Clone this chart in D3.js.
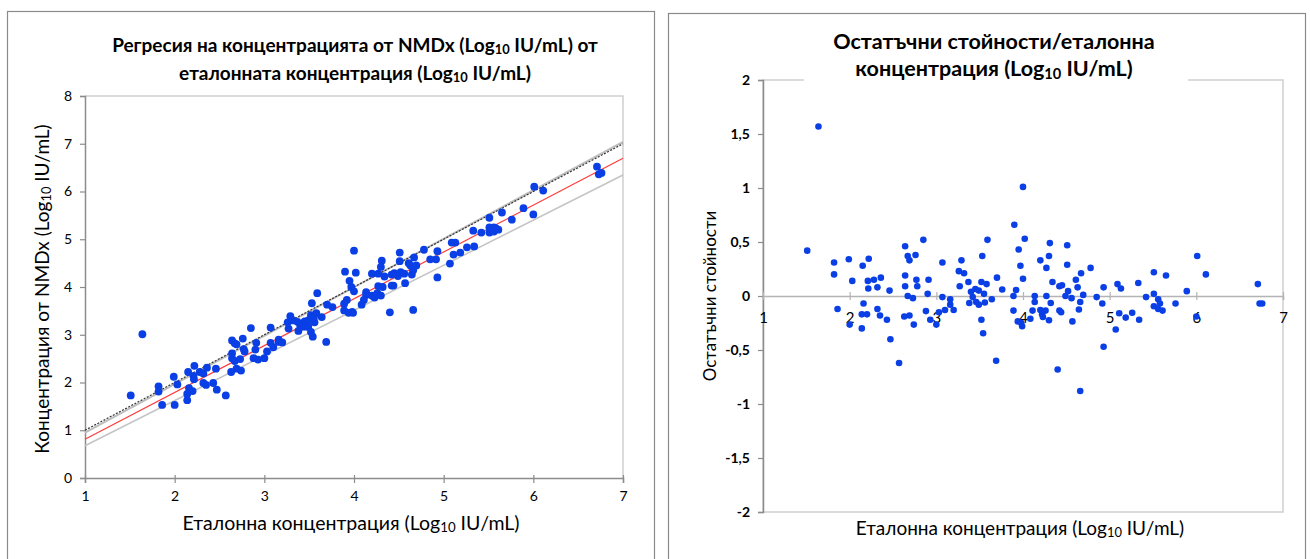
<!DOCTYPE html>
<html><head><meta charset="utf-8">
<script src="https://cdn.jsdelivr.net/npm/d3@7"></script>
<style>
body{margin:0;background:#fff;}
svg text{font-family:Lato,"Open Sans","Noto Sans",sans-serif;fill:#000;}
</style></head>
<body><svg id="c" width="1310" height="559"></svg>
<script>
// Reference concentration (Log10 IU/mL)
const refX = [1.51,1.64,1.82,1.82,1.86,1.99,2.03,2.00,2.14,2.14,2.20,2.16,2.15,2.22,2.21,2.215,2.28,2.32,2.36,2.32,2.35,2.43,2.46,2.47,2.57,2.64,2.67,2.69,2.76,2.64,2.64,2.67,2.73,2.77,2.78,2.85,2.91,2.90,2.63,2.69,2.74,2.88,2.93,3.00,
3.07,3.07,3.03,3.10,3.16,3.16,3.20,3.29,3.26,3.32,3.37,3.27,3.38,3.40,3.42,3.45,3.46,3.49,3.52,3.53,3.52,3.54,3.56,3.58,3.55,3.49,3.59,3.64,3.69,3.70,3.76,3.90,4.00,4.02,3.95,3.97,4.00,3.92,3.89,3.89,3.94,3.98,3.99,4.085,4.135,4.135,4.11,4.20,4.20,4.22,4.23,4.26,4.27,4.27,4.30,4.31,4.30,4.32,4.34,4.40,4.42,4.45,4.42,4.44,4.49,4.51,4.51,4.52,4.56,4.57,4.61,4.63,4.645,4.66,4.66,4.67,4.695,4.78,4.85,4.915,4.93,4.93,5.07,
5.09,5.13,5.11,5.185,5.26,5.34,5.33,5.42,5.51,5.51,5.51,5.56,5.58,5.56,5.61,5.65,5.76,5.89,6.01,6.11,6.71,6.73,6.76,6.00];
// NMDx concentration (Log10 IU/mL), left panel
const nmdxY = [1.73,3.01,1.92,1.81,1.53,2.12,1.96,1.53,1.63,1.76,1.82,1.88,2.22,2.35,2.14,2.07,2.22,2.19,2.31,1.99,1.95,1.99,2.29,1.85,1.73,2.88,2.82,2.80,2.92,2.61,2.51,2.45,2.49,2.70,2.65,3.14,2.83,2.69,2.22,2.29,2.25,2.51,2.48,2.51,
3.15,2.83,2.65,2.74,2.90,2.85,2.84,3.39,3.26,3.30,3.27,3.13,3.08,3.20,3.17,3.28,3.17,3.17,3.41,3.66,3.06,2.96,3.26,3.45,3.33,3.30,3.87,3.37,2.85,3.63,3.58,4.32,4.76,4.30,4.13,4.00,3.91,3.73,3.65,3.51,3.46,3.48,3.46,3.63,3.89,3.83,3.73,4.28,3.82,3.80,3.78,3.87,4.28,4.02,4.42,4.55,3.82,4.00,4.22,3.47,4.26,4.29,4.03,4.03,4.23,4.72,4.54,4.31,4.28,4.08,4.50,4.45,4.26,4.35,3.52,4.62,4.45,4.78,4.58,4.58,4.75,4.20,4.49,
4.93,4.93,4.68,4.72,4.83,4.85,5.18,5.14,5.45,5.25,5.14,5.25,5.23,5.16,5.20,5.56,5.41,5.65,6.10,6.02,6.52,6.36,6.39,5.52];
// Residuals, right panel
const residual = [0.42,1.57,0.31,0.20,-0.12,0.34,0.14,-0.265,-0.30,-0.17,-0.17,-0.07,0.28,0.345,0.14,0.07,0.15,0.08,0.17,-0.12,-0.18,-0.22,0.05,-0.40,-0.62,0.46,0.37,0.33,0.38,0.19,0.09,0.0,-0.02,0.15,0.09,0.52,0.15,0.02,-0.19,-0.18,-0.265,-0.14,-0.22,-0.265,
0.31,-0.01,-0.15,-0.13,-0.03,-0.08,-0.13,0.33,0.23,0.21,0.13,0.09,-0.065,0.04,-0.01,0.065,-0.055,-0.08,0.13,0.37,-0.22,-0.345,-0.06,0.11,0.02,0.05,0.52,-0.03,-0.60,0.17,0.06,0.66,1.01,0.53,0.43,0.28,0.16,0.055,0.0,-0.135,-0.235,-0.25,-0.28,-0.21,0.0,-0.055,-0.135,0.33,-0.13,-0.17,-0.195,-0.135,0.26,0.0,0.37,0.49,-0.225,-0.065,0.13,-0.68,0.09,0.10,-0.135,-0.15,0.0,0.47,0.29,0.045,-0.02,-0.235,0.15,0.08,-0.125,-0.055,-0.88,0.21,0.01,0.26,-0.01,-0.07,0.08,-0.47,-0.31,
0.11,0.07,-0.16,-0.20,-0.155,-0.22,0.12,-0.01,0.22,0.02,-0.095,-0.03,-0.07,-0.12,-0.135,0.19,-0.07,0.045,0.37,0.20,0.11,-0.07,-0.07,-0.19];

// Reference lines on the left panel: [x0, x1] and y values at those ends
const lineX = [1, 7];
const identityY = [1, 7];
const regressionY = [0.81, 6.695];
const upperCIY = [0.95, 7.04];
const lowerCIY = [0.676, 6.345];

const leftXTicks = [1,2,3,4,5,6,7];
const leftYTicks = [0,1,2,3,4,5,6,7,8];
const rightXTicks = [1,2,3,4,5,6,7];
const rightYTicks = [-2,-1.5,-1,-0.5,0,0.5,1,1.5,2];

const leftTitle = [["Регресия на концентрацията от NMDx (Log","10"," IU/mL) от"],["еталонната концентрация (Log","10"," IU/mL)"]];
const rightTitle = [["Остатъчни стойности/еталонна"],["концентрация (Log","10"," IU/mL)"]];
const xTitle = ["Еталонна концентрация (Log","10"," IU/mL)"];
const leftYTitle = ["Концентрация от NMDx (Log","10"," IU/mL)"];
const rightYTitle = ["Остатъчни стойности"];

const svg = d3.select("#c");
const dotColor = "#0a3fe6";
const axisCol = "#8c8c8c";
const frameCol = "#cfcfcf";

function richText(sel, parts, size) {
  parts.forEach((p, i) => {
    const t = sel.append("tspan").text(p);
    if (i === 1) { t.attr("font-size", size * 0.68).attr("dy", size*0.12); }
    else if (i === 2) { t.attr("dy", -size*0.12); }
  });
}

// ---------- Panels ----------
svg.append("rect").attr("x",7.5).attr("y",11.5).attr("width",647).attr("height",600)
  .attr("fill","none").attr("stroke","#8a8a8a").attr("stroke-width",1.2);
svg.append("rect").attr("x",668.5).attr("y",13.5).attr("width",637).attr("height",600)
  .attr("fill","none").attr("stroke","#8a8a8a").attr("stroke-width",1.2);

// ---------- Left chart ----------
const xL = d3.scaleLinear().domain([1,7]).range([85,623]);
const yL = d3.scaleLinear().domain([0,8]).range([478,96]);
const gL = svg.append("g");

gL.append("path").attr("d", `M${xL(1)},${yL(8)}H${xL(7)}V${yL(0)}`)
  .attr("fill","none").attr("stroke",frameCol).attr("stroke-width",1.5);

const yAxL = gL.append("g").attr("transform",`translate(${xL(1)},0)`)
  .call(d3.axisLeft(yL).tickValues(leftYTicks).tickSize(5).tickPadding(8).tickFormat(d3.format("d")));
const xAxL = gL.append("g").attr("transform",`translate(0,${yL(0)})`)
  .call(d3.axisBottom(xL).tickValues(leftXTicks).tickSize(5).tickPadding(8).tickFormat(d3.format("d")));
[yAxL, xAxL].forEach(a => {
  a.select(".domain").attr("stroke",axisCol).attr("stroke-width",1.5);
  a.selectAll(".tick line").attr("stroke",axisCol).attr("stroke-width",1.2);
  a.selectAll("text").attr("font-size",14).attr("fill","#222").attr("font-family","Lato,sans-serif");
});
xAxL.selectAll(".tick line").attr("y1",-3);

const ln = d3.line().x(d=>xL(d[0])).y(d=>yL(d[1]));
const mk = ys => lineX.map((x,i)=>[x, ys[i]]);
gL.append("path").attr("d", ln(mk(lowerCIY))).attr("stroke","#c4c4c4").attr("stroke-width",1.5).attr("fill","none");
gL.append("path").attr("d", ln(mk(upperCIY))).attr("stroke","#bdbdbd").attr("stroke-width",2).attr("fill","none");
gL.append("path").attr("d", ln(mk(regressionY))).attr("stroke","#ff3b3b").attr("stroke-width",1.2).attr("fill","none");
gL.append("path").attr("d", ln(mk(identityY))).attr("stroke","#333").attr("stroke-width",1.2).attr("stroke-dasharray","2,1.5").attr("fill","none");

gL.append("g").selectAll("circle").data(refX.map((x,i)=>[x,nmdxY[i]])).join("circle")
  .attr("cx",d=>xL(d[0])).attr("cy",d=>yL(d[1])).attr("r",3.9).attr("fill",dotColor);

leftTitle.forEach((line,li) => {
  const t = gL.append("text").attr("x",355).attr("y",52 + li*28).attr("text-anchor","middle")
    .attr("font-weight","bold").attr("font-size",19);
  richText(t, line, 19);
});
const xtL = gL.append("text").attr("x",351).attr("y",530).attr("text-anchor","middle").attr("font-size",19.5);
richText(xtL, xTitle, 19.5);
const ytL = gL.append("text").attr("transform","translate(49,289) rotate(-90)").attr("text-anchor","middle").attr("font-size",19);
richText(ytL, leftYTitle, 19);

// ---------- Right chart ----------
const xR = d3.scaleLinear().domain([1,7]).range([763,1283]);
const yR = d3.scaleLinear().domain([-2,2]).range([512,80]);
const gR = svg.append("g");

gR.append("rect").attr("x",xR(1)).attr("y",yR(2)).attr("width",xR(7)-xR(1)).attr("height",yR(-2)-yR(2))
  .attr("fill","none").attr("stroke",frameCol).attr("stroke-width",1.5);

const yAxR = gR.append("g").attr("transform",`translate(${xR(1)},0)`)
  .call(d3.axisLeft(yR).tickValues(rightYTicks).tickSize(5).tickPadding(8)
    .tickFormat(d => String(d).replace(".", ",")));
yAxR.select(".domain").attr("stroke",axisCol).attr("stroke-width",1.5);
yAxR.selectAll(".tick line").attr("stroke",axisCol).attr("stroke-width",1.2);
yAxR.selectAll("text").attr("font-size",14).attr("font-weight","bold").attr("fill","#000").attr("font-family","Lato,sans-serif");

const xAxR = gR.append("g").attr("transform",`translate(0,${yR(0)})`)
  .call(d3.axisBottom(xR).tickValues(rightXTicks).tickSize(4).tickPadding(12).tickFormat(d3.format("d")));
xAxR.select(".domain").attr("stroke","#b4b4b4").attr("stroke-width",1.5);
xAxR.selectAll(".tick line").attr("stroke","#b4b4b4").attr("stroke-width",1.2).attr("y1",-4);
xAxR.selectAll("text").attr("font-size",15).attr("fill","#111").attr("font-family","Lato,sans-serif");

gR.append("g").selectAll("circle").data(refX.map((x,i)=>[x,residual[i]])).join("circle")
  .attr("cx",d=>xR(d[0])).attr("cy",d=>yR(d[1])).attr("r",3.3).attr("fill",dotColor);

// title with white background box covering the frame top
gR.append("rect").attr("x",804).attr("y",24).attr("width",384).attr("height",64).attr("fill","#fff");
rightTitle.forEach((line,li) => {
  const t = gR.append("text").attr("x",994).attr("y",49 + li*27).attr("text-anchor","middle")
    .attr("font-weight","bold").attr("font-size",21.5);
  richText(t, line, 21.5);
});
const xtR = gR.append("text").attr("x",1020).attr("y",535).attr("text-anchor","middle").attr("font-size",19);
richText(xtR, xTitle, 19);
const ytR = gR.append("text").attr("transform","translate(716,296) rotate(-90)").attr("text-anchor","middle").attr("font-size",17);
richText(ytR, rightYTitle, 17);
</script></body></html>
